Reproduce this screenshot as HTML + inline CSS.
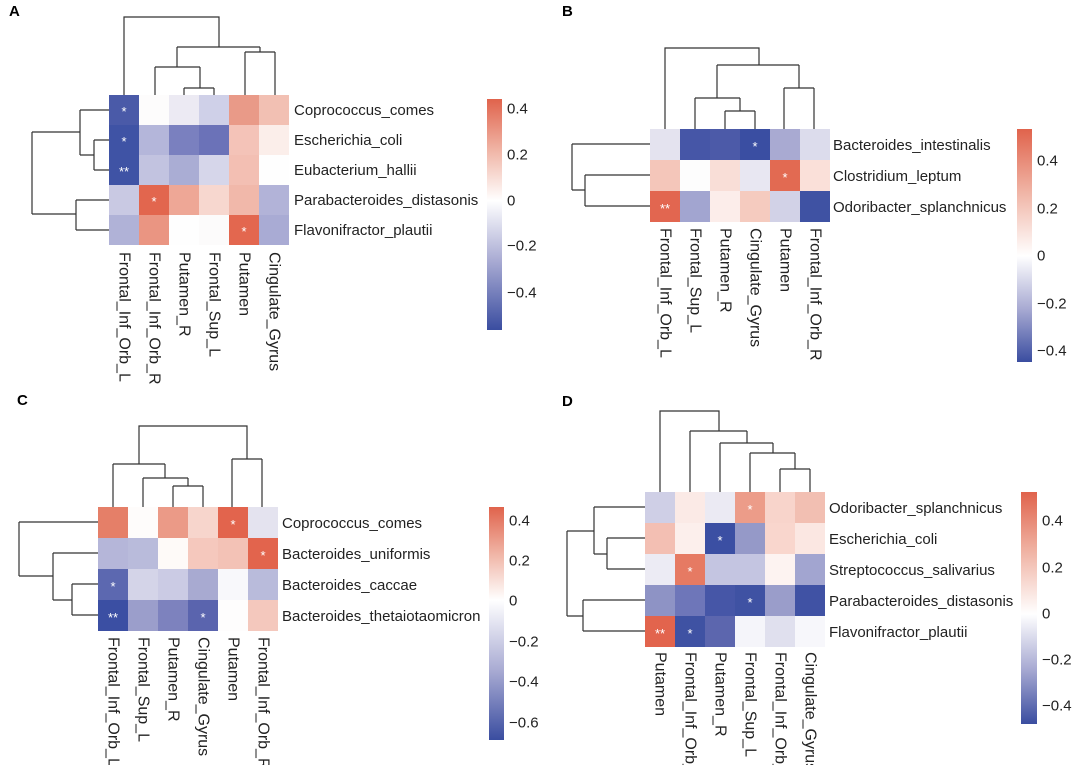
<!DOCTYPE html>
<html><head><meta charset="utf-8"><style>
html,body{margin:0;padding:0;background:#fff}
svg{display:block}
text{font-family:"Liberation Sans",Arial,sans-serif;fill:#222}
.l{font-size:15px}
.c{font-size:16px}
.s{font-size:13px;fill:#fff}
.p{font-size:15px;font-weight:bold;fill:#000}
.d{fill:none;stroke:#333;stroke-width:1.2}
</style></head><body>
<svg width="1080" height="765" viewBox="0 0 1080 765" xmlns="http://www.w3.org/2000/svg">
<defs>
<linearGradient id="gA" x1="0" y1="0" x2="0" y2="1"><stop offset="0" stop-color="#e0634c"/><stop offset="0.22" stop-color="#f0b4a5"/><stop offset="0.44" stop-color="#fff"/><stop offset="0.7" stop-color="#a9abd3"/><stop offset="1" stop-color="#3a4da0"/></linearGradient>
<linearGradient id="gB" x1="0" y1="0" x2="0" y2="1"><stop offset="0" stop-color="#e0634c"/><stop offset="0.27" stop-color="#f0b4a5"/><stop offset="0.545" stop-color="#fff"/><stop offset="0.77" stop-color="#a9abd3"/><stop offset="1" stop-color="#3a4da0"/></linearGradient>
<linearGradient id="gC" x1="0" y1="0" x2="0" y2="1"><stop offset="0" stop-color="#e0634c"/><stop offset="0.2" stop-color="#f0b4a5"/><stop offset="0.40" stop-color="#fff"/><stop offset="0.7" stop-color="#a9abd3"/><stop offset="1" stop-color="#3a4da0"/></linearGradient>
<linearGradient id="gD" x1="0" y1="0" x2="0" y2="1"><stop offset="0" stop-color="#e0634c"/><stop offset="0.26" stop-color="#f0b4a5"/><stop offset="0.526" stop-color="#fff"/><stop offset="0.76" stop-color="#a9abd3"/><stop offset="1" stop-color="#3a4da0"/></linearGradient>
</defs>

<!-- ================= A ================= -->
<text class="p" x="9" y="16">A</text>
<g>
<rect x="109" y="95" width="30" height="30" fill="#4a5aa8"/><rect x="139" y="95" width="30" height="30" fill="#fdfcfc"/><rect x="169" y="95" width="30" height="30" fill="#eceaf3"/><rect x="199" y="95" width="30" height="30" fill="#cfd0e8"/><rect x="229" y="95" width="30" height="30" fill="#e99a88"/><rect x="259" y="95" width="30" height="30" fill="#f2c0b3"/>
<rect x="109" y="125" width="30" height="30" fill="#3f53a5"/><rect x="139" y="125" width="30" height="30" fill="#b4b6da"/><rect x="169" y="125" width="30" height="30" fill="#7a80bf"/><rect x="199" y="125" width="30" height="30" fill="#6b72b8"/><rect x="229" y="125" width="30" height="30" fill="#f4c3b8"/><rect x="259" y="125" width="30" height="30" fill="#fbeeea"/>
<rect x="109" y="155" width="30" height="30" fill="#3f53a5"/><rect x="139" y="155" width="30" height="30" fill="#c2c3e0"/><rect x="169" y="155" width="30" height="30" fill="#aaadd4"/><rect x="199" y="155" width="30" height="30" fill="#d6d6ea"/><rect x="229" y="155" width="30" height="30" fill="#f3bfb3"/><rect x="259" y="155" width="30" height="30" fill="#fefefe"/>
<rect x="109" y="185" width="30" height="30" fill="#c9c9e3"/><rect x="139" y="185" width="30" height="30" fill="#e2664e"/><rect x="169" y="185" width="30" height="30" fill="#eea796"/><rect x="199" y="185" width="30" height="30" fill="#f7d7cf"/><rect x="229" y="185" width="30" height="30" fill="#f1b8aa"/><rect x="259" y="185" width="30" height="30" fill="#b2b3d8"/>
<rect x="109" y="215" width="30" height="30" fill="#b0b2d7"/><rect x="139" y="215" width="30" height="30" fill="#ea9582"/><rect x="169" y="215" width="30" height="30" fill="#fefefe"/><rect x="199" y="215" width="30" height="30" fill="#fcfbfb"/><rect x="229" y="215" width="30" height="30" fill="#e3674f"/><rect x="259" y="215" width="30" height="30" fill="#a9abd4"/>
</g>
<text class="s" x="124" y="116" text-anchor="middle">*</text>
<text class="s" x="124" y="146" text-anchor="middle">*</text>
<text class="s" x="124" y="176" text-anchor="middle">**</text>
<text class="s" x="154" y="206" text-anchor="middle">*</text>
<text class="s" x="244" y="236" text-anchor="middle">*</text>
<path class="d" d="M124 95V17H219V47 M177 47H260 M177 47V67 M155 67H200 M155 67V95 M200 67V88 M184 88H214 M184 88V95 M214 88V95 M260 47V52 M245 52H275 M245 52V95 M275 52V95"/>
<path class="d" d="M109 110H80 M109 140H94 M109 170H94 M94 140V170 M94 155H80 M80 110V155 M80 132H32 M109 200H76 M109 230H76 M76 200V230 M76 214H32 M32 132V214"/>
<text class="l" x="294" y="115">Coprococcus_comes</text>
<text class="l" x="294" y="145">Escherichia_coli</text>
<text class="l" x="294" y="175">Eubacterium_hallii</text>
<text class="l" x="294" y="205">Parabacteroides_distasonis</text>
<text class="l" x="294" y="235">Flavonifractor_plautii</text>
<g class="c" dominant-baseline="central">
<text transform="translate(124,252) rotate(90)">Frontal_Inf_Orb_L</text>
<text transform="translate(154,252) rotate(90)">Frontal_Inf_Orb_R</text>
<text transform="translate(184,252) rotate(90)">Putamen_R</text>
<text transform="translate(214,252) rotate(90)">Frontal_Sup_L</text>
<text transform="translate(244,252) rotate(90)">Putamen</text>
<text transform="translate(274,252) rotate(90)">Cingulate_Gyrus</text>
</g>
<rect x="487" y="99" width="15" height="231" fill="url(#gA)"/>
<g class="l" dominant-baseline="central">
<text x="507" y="109">0.4</text><text x="507" y="155">0.2</text><text x="507" y="201">0</text><text x="507" y="246">−0.2</text><text x="507" y="293">−0.4</text>
</g>

<!-- ================= B ================= -->
<text class="p" x="562" y="16">B</text>
<g>
<rect x="650" y="129" width="30" height="31" fill="#e4e3ef"/><rect x="680" y="129" width="30" height="31" fill="#4656a7"/><rect x="710" y="129" width="30" height="31" fill="#4c5aa8"/><rect x="740" y="129" width="30" height="31" fill="#3a4ea2"/><rect x="770" y="129" width="30" height="31" fill="#a9aad2"/><rect x="800" y="129" width="30" height="31" fill="#dcdcec"/>
<rect x="650" y="160" width="30" height="31" fill="#f4c6ba"/><rect x="680" y="160" width="30" height="31" fill="#fdfdfd"/><rect x="710" y="160" width="30" height="31" fill="#f9ded7"/><rect x="740" y="160" width="30" height="31" fill="#e8e7f2"/><rect x="770" y="160" width="30" height="31" fill="#e26a52"/><rect x="800" y="160" width="30" height="31" fill="#fae0d9"/>
<rect x="650" y="191" width="30" height="31" fill="#e26650"/><rect x="680" y="191" width="30" height="31" fill="#a2a5d0"/><rect x="710" y="191" width="30" height="31" fill="#fcedea"/><rect x="740" y="191" width="30" height="31" fill="#f5cbbf"/><rect x="770" y="191" width="30" height="31" fill="#d2d2e7"/><rect x="800" y="191" width="30" height="31" fill="#3f52a3"/>
</g>
<text class="s" x="755" y="151" text-anchor="middle">*</text>
<text class="s" x="785" y="182" text-anchor="middle">*</text>
<text class="s" x="665" y="213" text-anchor="middle">**</text>
<path class="d" d="M665 129V48H759V65 M717 65H799 M717 65V98 M695 98H740 M695 98V129 M740 98V111 M725 111H755 M725 111V129 M755 111V129 M799 65V88 M784 88H814 M784 88V129 M814 88V129"/>
<path class="d" d="M650 144H572 M650 175H585 M650 206H585 M585 175V206 M585 190H572 M572 144V190"/>
<text class="l" x="833" y="150">Bacteroides_intestinalis</text>
<text class="l" x="833" y="181">Clostridium_leptum</text>
<text class="l" x="833" y="212">Odoribacter_splanchnicus</text>
<g class="c" dominant-baseline="central">
<text transform="translate(665,228) rotate(90)">Frontal_Inf_Orb_L</text>
<text transform="translate(695,228) rotate(90)">Frontal_Sup_L</text>
<text transform="translate(725,228) rotate(90)">Putamen_R</text>
<text transform="translate(755,228) rotate(90)">Cingulate_Gyrus</text>
<text transform="translate(785,228) rotate(90)">Putamen</text>
<text transform="translate(815,228) rotate(90)">Frontal_Inf_Orb_R</text>
</g>
<rect x="1017" y="129" width="15" height="233" fill="url(#gB)"/>
<g class="l" dominant-baseline="central">
<text x="1037" y="161">0.4</text><text x="1037" y="209">0.2</text><text x="1037" y="256">0</text><text x="1037" y="304">−0.2</text><text x="1037" y="351">−0.4</text>
</g>

<!-- ================= C ================= -->
<text class="p" x="17" y="405">C</text>
<g>
<rect x="98" y="507" width="30" height="31" fill="#e57f68"/><rect x="128" y="507" width="30" height="31" fill="#fefcfb"/><rect x="158" y="507" width="30" height="31" fill="#eb9a87"/><rect x="188" y="507" width="30" height="31" fill="#f7d5cc"/><rect x="218" y="507" width="30" height="31" fill="#e2644d"/><rect x="248" y="507" width="30" height="31" fill="#e4e3ef"/>
<rect x="98" y="538" width="30" height="31" fill="#b5b6d9"/><rect x="128" y="538" width="30" height="31" fill="#b9bbdb"/><rect x="158" y="538" width="30" height="31" fill="#fefaf8"/><rect x="188" y="538" width="30" height="31" fill="#f5c8bd"/><rect x="218" y="538" width="30" height="31" fill="#f3c2b6"/><rect x="248" y="538" width="30" height="31" fill="#e2644d"/>
<rect x="98" y="569" width="30" height="31" fill="#5c68b0"/><rect x="128" y="569" width="30" height="31" fill="#d4d4e8"/><rect x="158" y="569" width="30" height="31" fill="#cbcbe4"/><rect x="188" y="569" width="30" height="31" fill="#a8aad1"/><rect x="218" y="569" width="30" height="31" fill="#f8f8fb"/><rect x="248" y="569" width="30" height="31" fill="#b9bbdb"/>
<rect x="98" y="600" width="30" height="31" fill="#3b4fa3"/><rect x="128" y="600" width="30" height="31" fill="#9b9ecb"/><rect x="158" y="600" width="30" height="31" fill="#7d82be"/><rect x="188" y="600" width="30" height="31" fill="#5a64ae"/><rect x="218" y="600" width="30" height="31" fill="#fefdfd"/><rect x="248" y="600" width="30" height="31" fill="#f4c8bd"/>
</g>
<text class="s" x="233" y="529" text-anchor="middle">*</text>
<text class="s" x="263" y="560" text-anchor="middle">*</text>
<text class="s" x="113" y="591" text-anchor="middle">*</text>
<text class="s" x="113" y="622" text-anchor="middle">**</text>
<text class="s" x="203" y="622" text-anchor="middle">*</text>
<path class="d" d="M139 464V426H247V459 M232 459H262 M232 459V507 M262 459V507 M113 464H165 M113 464V507 M165 464V478 M143 478H188 M143 478V507 M188 478V486 M173 486H203 M173 486V507 M203 486V507"/>
<path class="d" d="M98 522H19 M98 553H53 M98 584H72 M98 615H72 M72 584V615 M72 600H53 M53 553V600 M53 576H19 M19 522V576"/>
<text class="l" x="282" y="528">Coprococcus_comes</text>
<text class="l" x="282" y="559">Bacteroides_uniformis</text>
<text class="l" x="282" y="590">Bacteroides_caccae</text>
<text class="l" x="282" y="621">Bacteroides_thetaiotaomicron</text>
<g class="c" dominant-baseline="central">
<text transform="translate(113,637) rotate(90)">Frontal_Inf_Orb_L</text>
<text transform="translate(143,637) rotate(90)">Frontal_Sup_L</text>
<text transform="translate(173,637) rotate(90)">Putamen_R</text>
<text transform="translate(203,637) rotate(90)">Cingulate_Gyrus</text>
<text transform="translate(233,637) rotate(90)">Putamen</text>
<text transform="translate(263,637) rotate(90)">Frontal_Inf_Orb_R</text>
</g>
<rect x="489" y="507" width="15" height="233" fill="url(#gC)"/>
<g class="l" dominant-baseline="central">
<text x="509" y="521">0.4</text><text x="509" y="561">0.2</text><text x="509" y="601">0</text><text x="509" y="642">−0.2</text><text x="509" y="682">−0.4</text><text x="509" y="723">−0.6</text>
</g>

<!-- ================= D ================= -->
<text class="p" x="562" y="406">D</text>
<g>
<rect x="645" y="492" width="30" height="31" fill="#cfcfe6"/><rect x="675" y="492" width="30" height="31" fill="#fbeae6"/><rect x="705" y="492" width="30" height="31" fill="#ebeaf3"/><rect x="735" y="492" width="30" height="31" fill="#ec9c89"/><rect x="765" y="492" width="30" height="31" fill="#f8d4cb"/><rect x="795" y="492" width="30" height="31" fill="#f2bfb2"/>
<rect x="645" y="523" width="30" height="31" fill="#f3bfb3"/><rect x="675" y="523" width="30" height="31" fill="#fcefec"/><rect x="705" y="523" width="30" height="31" fill="#3b4fa3"/><rect x="735" y="523" width="30" height="31" fill="#9599c8"/><rect x="765" y="523" width="30" height="31" fill="#f9d6cd"/><rect x="795" y="523" width="30" height="31" fill="#fbe7e2"/>
<rect x="645" y="554" width="30" height="31" fill="#ecebf4"/><rect x="675" y="554" width="30" height="31" fill="#e67a63"/><rect x="705" y="554" width="30" height="31" fill="#c4c5e1"/><rect x="735" y="554" width="30" height="31" fill="#c4c5e1"/><rect x="765" y="554" width="30" height="31" fill="#fdf3f1"/><rect x="795" y="554" width="30" height="31" fill="#a2a5d0"/>
<rect x="645" y="585" width="30" height="31" fill="#8e93c5"/><rect x="675" y="585" width="30" height="31" fill="#6e76b9"/><rect x="705" y="585" width="30" height="31" fill="#4656a7"/><rect x="735" y="585" width="30" height="31" fill="#3f52a3"/><rect x="765" y="585" width="30" height="31" fill="#9a9dca"/><rect x="795" y="585" width="30" height="31" fill="#4052a4"/>
<rect x="645" y="616" width="30" height="31" fill="#e2644d"/><rect x="675" y="616" width="30" height="31" fill="#3f52a3"/><rect x="705" y="616" width="30" height="31" fill="#5c66ae"/><rect x="735" y="616" width="30" height="31" fill="#f5f5fa"/><rect x="765" y="616" width="30" height="31" fill="#e0e0ee"/><rect x="795" y="616" width="30" height="31" fill="#f7f7fb"/>
</g>
<text class="s" x="750" y="514" text-anchor="middle">*</text>
<text class="s" x="720" y="545" text-anchor="middle">*</text>
<text class="s" x="690" y="576" text-anchor="middle">*</text>
<text class="s" x="750" y="607" text-anchor="middle">*</text>
<text class="s" x="660" y="638" text-anchor="middle">**</text>
<text class="s" x="690" y="638" text-anchor="middle">*</text>
<path class="d" d="M660 492V411H719V431 M690 431H747 M690 431V492 M747 431V443 M720 443H773 M720 443V492 M773 443V453 M750 453H795 M750 453V492 M795 453V469 M780 469H810 M780 469V492 M810 469V492"/>
<path class="d" d="M645 507H594 M645 538H607 M645 569H607 M607 538V569 M607 554H594 M594 507V554 M594 531H567 M645 600H583 M645 631H583 M583 600V631 M583 616H567 M567 531V616"/>
<text class="l" x="829" y="513">Odoribacter_splanchnicus</text>
<text class="l" x="829" y="544">Escherichia_coli</text>
<text class="l" x="829" y="575">Streptococcus_salivarius</text>
<text class="l" x="829" y="606">Parabacteroides_distasonis</text>
<text class="l" x="829" y="637">Flavonifractor_plautii</text>
<g class="c" dominant-baseline="central">
<text transform="translate(660,652) rotate(90)">Putamen</text>
<text transform="translate(690,652) rotate(90)">Frontal_Inf_Orb_R</text>
<text transform="translate(720,652) rotate(90)">Putamen_R</text>
<text transform="translate(750,652) rotate(90)">Frontal_Sup_L</text>
<text transform="translate(780,652) rotate(90)">Frontal_Inf_Orb_L</text>
<text transform="translate(810,652) rotate(90)">Cingulate_Gyrus</text>
</g>
<rect x="1021" y="492" width="16" height="232" fill="url(#gD)"/>
<g class="l" dominant-baseline="central">
<text x="1042" y="521">0.4</text><text x="1042" y="568">0.2</text><text x="1042" y="614">0</text><text x="1042" y="660">−0.2</text><text x="1042" y="706">−0.4</text>
</g>
</svg>
</body></html>
